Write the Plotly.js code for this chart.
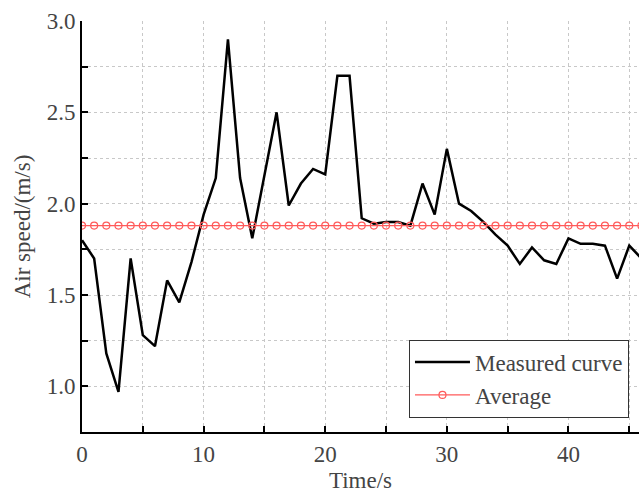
<!DOCTYPE html>
<html>
<head>
<meta charset="utf-8">
<script src="https://cdn.plot.ly/plotly-3.0.1.min.js"></script>
<style>html,body{margin:0;padding:0;background:#fff;}#chart{width:639px;height:494px;}
#warm{position:absolute;left:-2000px;top:0;font-family:'Liberation Serif';font-size:23px;}
#chart svg text{font-family:'Liberation Serif','Times New Roman',serif !important;}</style>
</head>
<body>
<div id="warm">Measured curve Average Time/s Air speed/(m/s) 0123456789.</div>
<div id="chart"></div>
<div id="t" style="position:absolute;left:-2000px;top:0;"></div>
<script>
var timeS = [0,1,2,3,4,5,6,7,8,9,10,11,12,13,14,15,16,17,18,19,20,21,22,23,24,25,26,27,28,29,30,31,32,33,34,35,36,37,38,39,40,41,42,43,44,45,46];
var measured = [1.80,1.70,1.18,0.97,1.70,1.28,1.22,1.58,1.46,1.68,1.94,2.14,2.90,2.14,1.81,2.15,2.50,1.99,2.11,2.19,2.16,2.70,2.70,1.92,1.89,1.90,1.90,1.88,2.11,1.94,2.30,2.00,1.96,1.90,1.83,1.77,1.67,1.76,1.69,1.67,1.81,1.78,1.78,1.77,1.59,1.77,1.70];
var averageValue = 1.88;
var average = timeS.map(function(){ return averageValue; });
var xTickVals = [0,5,10,15,20,25,30,35,40,45];
var xTickText = ['0','','10','','20','','30','','40',''];
var yTickVals = [0.75,1.0,1.25,1.5,1.75,2.0,2.25,2.5,2.75,3.0];
var yTickText = ['','1.0','','1.5','','2.0','','2.5','','3.0'];

var fam = 'Liberation Serif';
var traces = [
  {x: timeS, y: measured, name: 'Measured curve', type: 'scatter', mode: 'lines',
   line: {color: '#000000', width: 2.5}},
  {x: timeS, y: average, name: 'Average', type: 'scatter', mode: 'lines+markers',
   line: {color: '#ff5a5a', width: 1.2},
   marker: {symbol: 'circle-open', size: 7, color: '#ff5a5a', line: {width: 1.2, color: '#ff5a5a'}}}
];
var gridColor = '#c8c8c8';
var layout = {
  width: 639, height: 494,
  margin: {l: 82, r: 0, t: 21, b: 62},
  font: {family: fam, size: 23},
  legend: {x: 0.982, y: 0.035, xanchor: 'right', yanchor: 'bottom',
    bgcolor: '#ffffff', bordercolor: '#333333', borderwidth: 1,
    font: {family: fam, size: 23}, itemwidth: 55},
  xaxis: {range: [0, 45.8], tickvals: xTickVals, ticktext: xTickText,
    ticks: 'inside', ticklen: 6, tickwidth: 2, tickcolor: '#000',
    showline: true, linecolor: '#000', linewidth: 2, zeroline: false,
    showgrid: true, gridcolor: gridColor, griddash: 'dot', gridwidth: 1,
    title: {text: 'Time/s', font: {family: fam, size: 23}, standoff: 6},
    tickfont: {family: fam, size: 23}},
  yaxis: {range: [0.75, 3.0], tickvals: yTickVals, ticktext: yTickText,
    ticks: 'inside', ticklen: 6, tickwidth: 2, tickcolor: '#000',
    showline: true, linecolor: '#000', linewidth: 2, zeroline: false,
    showgrid: true, gridcolor: gridColor, griddash: 'dot', gridwidth: 1,
    title: {text: 'Air speed/(m/s)', font: {family: fam, size: 23}, standoff: 10},
    tickfont: {family: fam, size: 23}}
};
function forceSerif(){
  var nodes = document.querySelectorAll('#chart svg text');
  for (var i = 0; i < nodes.length; i++) {
    nodes[i].style.setProperty('font-family', "'Liberation Serif', 'Times New Roman', serif", 'important');
  }
}
Plotly.newPlot('chart', traces, layout, {displayModeBar: false, staticPlot: true}).then(function(){
  forceSerif();
  var el = document.querySelector('.legendtext');
  document.getElementById('t').textContent = el ? getComputedStyle(el).fontFamily : '';
  setTimeout(forceSerif, 50);
});
</script>
</body>
</html>
